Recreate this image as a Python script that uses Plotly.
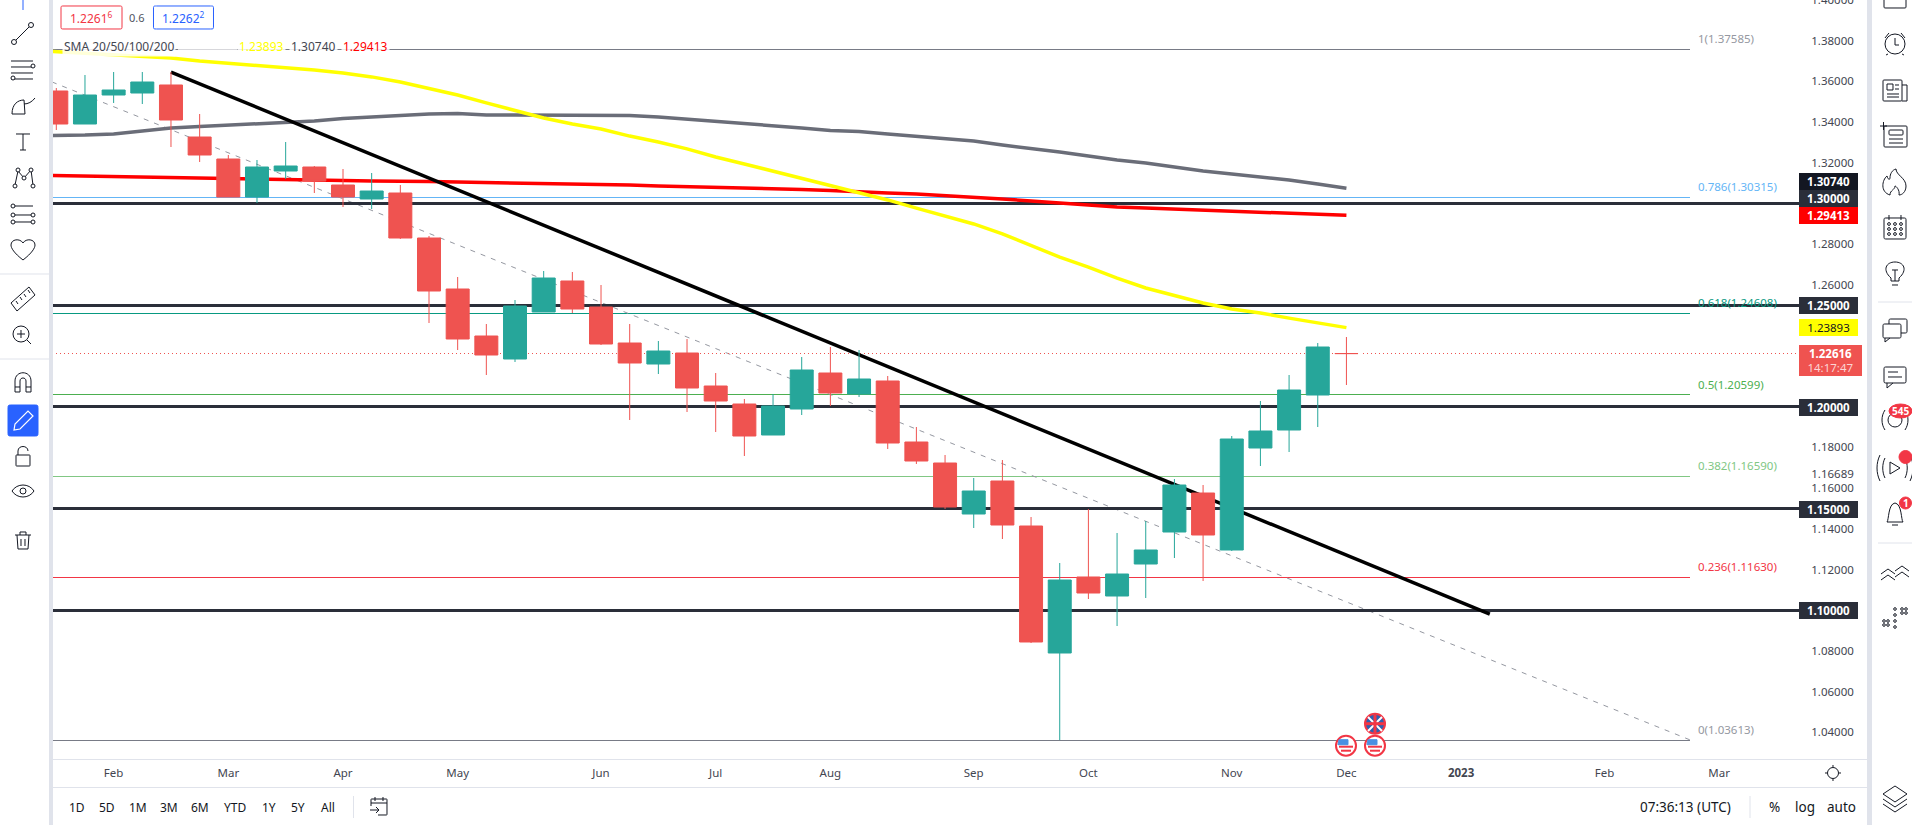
import re
import pandas as pd
import plotly.graph_objects as go

# ---------- data ----------
weeks = pd.date_range("2022-01-17", periods=46, freq="7D")
opens = [1.35527,1.33904,1.35330,1.35428,1.35822,1.33265,1.32183,1.30315,1.31593,1.31790,1.30905,1.30216,1.30511,1.28299,1.25791,1.23480,1.22349,1.24660,1.26185,1.24906,1.23136,1.22103,1.22644,1.21022,1.20137,1.18612,1.19891,1.21661,1.20628,1.21268,1.18268,1.17236,1.14728,1.16351,1.14138,1.07894,1.11631,1.10696,1.12270,1.13843,1.15761,1.12958,1.17973,1.18858,1.20579,1.22620]
highs = [1.35674,1.36313,1.36461,1.36461,1.36461,1.34396,1.32380,1.32134,1.33019,1.31839,1.31691,1.31495,1.30905,1.28397,1.26381,1.24070,1.25250,1.26676,1.26627,1.25988,1.24070,1.23234,1.23333,1.21661,1.20383,1.20628,1.22448,1.22939,1.22792,1.21513,1.19006,1.17629,1.16498,1.17383,1.14581,1.12319,1.14974,1.13794,1.14384,1.16449,1.16154,1.18563,1.20284,1.21563,1.23136,1.23431]
lows = [1.33609,1.33904,1.34937,1.34887,1.32773,1.32036,1.30315,1.30020,1.31200,1.30511,1.29823,1.29725,1.28250,1.24119,1.22792,1.21563,1.22202,1.24660,1.24611,1.23038,1.19350,1.21612,1.19743,1.18760,1.17580,1.18612,1.19596,1.20038,1.20481,1.17924,1.17187,1.14974,1.14040,1.13499,1.08385,1.03613,1.10549,1.09221,1.10598,1.12565,1.11434,1.12909,1.17088,1.17777,1.19006,1.21071]
closes = [1.33904,1.35330,1.35576,1.35969,1.34101,1.32380,1.30315,1.31790,1.31839,1.31101,1.30315,1.30610,1.28299,1.25693,1.23333,1.22546,1.24955,1.26332,1.24808,1.23087,1.22153,1.22743,1.20923,1.20284,1.18563,1.20038,1.21808,1.20678,1.21366,1.18219,1.17334,1.15072,1.15859,1.14187,1.08435,1.11483,1.10844,1.11778,1.12958,1.16154,1.13696,1.18416,1.18809,1.20825,1.22939,1.22616]
sma_weeks = pd.date_range("2022-01-10", periods=47, freq="7D")
sma_yellow = [1.3754,1.3747,1.3740,1.3732,1.3725,1.3715,1.3700,1.3690,1.3678,1.3668,1.3656,1.3641,1.3622,1.3597,1.3567,1.3533,1.3494,1.3459,1.3420,1.3390,1.3366,1.3331,1.3302,1.3268,1.3228,1.3194,1.3159,1.3125,1.3090,1.3056,1.3017,1.2977,1.2938,1.2899,1.2850,1.2791,1.2736,1.2687,1.2633,1.2584,1.2545,1.2510,1.2481,1.2461,1.2436,1.2412,1.23893]
sma_gray = [1.3333,1.3334,1.3336,1.3341,1.3356,1.3371,1.3378,1.3385,1.3390,1.3398,1.3405,1.3417,1.3425,1.3432,1.3440,1.3442,1.3435,1.3435,1.3435,1.3435,1.3432,1.3432,1.3425,1.3415,1.3405,1.3395,1.3385,1.3371,1.3358,1.3354,1.3341,1.3331,1.3319,1.3307,1.3287,1.3272,1.3253,1.3233,1.3213,1.3199,1.3179,1.3159,1.3145,1.3130,1.3115,1.3095,1.30740]
sma_red = [1.3139,1.3137,1.3135,1.3132,1.3130,1.3127,1.3125,1.3122,1.3120,1.3117,1.3115,1.3113,1.3110,1.3110,1.3108,1.3105,1.3103,1.3100,1.3098,1.3095,1.3093,1.3090,1.3086,1.3083,1.3081,1.3076,1.3071,1.3068,1.3063,1.3059,1.3051,1.3046,1.3039,1.3032,1.3022,1.3012,1.3002,1.2990,1.2982,1.2977,1.2972,1.2967,1.2963,1.2958,1.2953,1.2948,1.29413]

fib_ratios = ["1", "0.786", "0.618", "0.5", "0.382", "0.236", "0"]
fib_levels = [1.37585, 1.30315, 1.24608, 1.20599, 1.16590, 1.11630, 1.03613]
fib_colors = ["#787b86", "#64b5f6", "#089981", "#4caf50", "#81c784", "#f23645", "#787b86"]
fib_dates = ["2021-12-27", "2023-02-20"]
key_levels = [1.30, 1.25, 1.20, 1.15, 1.10]
trend_dates = ["2022-02-14", "2023-01-02"]
trend_prices = [1.3646, 1.0981]
last_price = 1.22616
last_gap = ["2022-11-25", "2022-12-02"]
y_ticks = [1.40, 1.38, 1.36, 1.34, 1.32, 1.28, 1.26, 1.18, 1.16689, 1.16, 1.14, 1.12, 1.08, 1.06, 1.04]
x_tick_dates = ["2022-01-31","2022-02-28","2022-03-28","2022-04-25","2022-05-30","2022-06-27","2022-07-25","2022-08-29","2022-09-26","2022-10-31","2022-11-28","2022-12-26","2023-01-30","2023-02-27"]
x_tick_text = ["Feb","Mar","Apr","May","Jun","Jul","Aug","Sep","Oct","Nov","Dec","<b>2023</b>","Feb","Mar"]
range_buttons = ["1D","5D","1M","3M","6M","YTD","1Y","5Y","All"]

# ---------- geometry ----------
L, R, B = 53, 1799, 759
PW = R - L
FONT = "Noto Sans"
INK = "#131722"
X = lambda px: (px - L) / PW
Y = lambda py: 1 - py / B
x_range = ["2022-01-16 04:40", "2023-03-18 12:00"]
y_range = [1.02682, 1.40001]
far = ["2021-12-01", "2023-04-30"]

fig = go.Figure()
for lv, c in zip(fib_levels, fib_colors):
    fig.add_trace(go.Scatter(x=fib_dates, y=[lv, lv], mode="lines", line=dict(color=c, width=1)))
fig.add_trace(go.Scatter(x=fib_dates, y=[fib_levels[0], fib_levels[-1]], mode="lines",
                         line=dict(color="#9598a1", width=1, dash="5px,6px")))
for lv in key_levels:
    fig.add_trace(go.Scatter(x=far, y=[lv, lv], mode="lines", line=dict(color="#2a2e39", width=3)))
fig.add_trace(go.Scatter(x=[far[0], last_gap[0], None, last_gap[1], far[1]],
                         y=[last_price, last_price, None, last_price, last_price], mode="lines",
                         line=dict(color="#ef5350", width=1, dash="1px,3px")))
fig.add_trace(go.Scatter(x=sma_weeks, y=sma_gray, mode="lines", line=dict(color="#6a6d78", width=3.5)))
fig.add_trace(go.Scatter(x=sma_weeks, y=sma_red, mode="lines", line=dict(color="#ff0000", width=3.5)))
fig.add_trace(go.Scatter(x=sma_weeks, y=sma_yellow, mode="lines", line=dict(color="#ffff00", width=3.5)))
fig.add_trace(go.Scatter(x=trend_dates, y=trend_prices, mode="lines", line=dict(color="#000000", width=3.5)))
fig.add_trace(go.Candlestick(x=weeks, open=opens, high=highs, low=lows, close=closes,
                             xaxis="x2", yaxis="y2", whiskerwidth=0,
                             increasing=dict(line=dict(color="#26a69a", width=1), fillcolor="#26a69a"),
                             decreasing=dict(line=dict(color="#ef5350", width=1), fillcolor="#ef5350")))

shapes, notes = [], []

def note(px, py, text, color=INK, size=12, anchor="center", **kw):
    notes.append(dict(xref="paper", yref="paper", x=X(px), y=Y(py), text=text, showarrow=False,
                      xanchor=anchor, yanchor="middle", font=dict(family=FONT, size=size, color=color), **kw))

def path(d, color=INK, width=1, fill=None):
    parts, isx = [], True
    for t in re.findall(r"[MLCZ]|-?\d+\.?\d*", d):
        if t in "MLCZ":
            parts.append(t); isx = True
        else:
            parts.append(f"{X(float(t)):.6f}" if isx else f"{Y(float(t)):.6f}")
            isx = not isx
    res, i = "", 0
    while i < len(parts):
        res += parts[i]; i += 1
        first = True
        while i + 1 < len(parts) and parts[i] not in "MLCZ":
            res += ("" if first else " ") + parts[i] + "," + parts[i + 1]
            first = False; i += 2
        res += " "
    sh = dict(type="path", xref="paper", yref="paper", path=res.strip(), line=dict(color=color, width=width))
    if fill:
        sh["fillcolor"] = fill
    shapes.append(sh)

def circ(cx, cy, r, color=INK, width=1, fill=None, ry=None):
    ry = ry or r
    sh = dict(type="circle", xref="paper", yref="paper", x0=X(cx - r), x1=X(cx + r), y0=Y(cy + ry), y1=Y(cy - ry),
              line=dict(color=color, width=width))
    if fill:
        sh["fillcolor"] = fill
    shapes.append(sh)

def rect(x0, y0, x1, y1, fill=None, color=None, width=0):
    sh = dict(type="rect", xref="paper", yref="paper", x0=X(x0), x1=X(x1), y0=Y(y1), y1=Y(y0),
              line=dict(color=color or "rgba(0,0,0,0)", width=width))
    if fill:
        sh["fillcolor"] = fill
    shapes.append(sh)

def rrect(x0, y0, x1, y1, r=3, color=INK, width=1, fill=None):
    path(f"M {x0+r} {y0} L {x1-r} {y0} C {x1} {y0} {x1} {y0} {x1} {y0+r} L {x1} {y1-r} C {x1} {y1} {x1} {y1} {x1-r} {y1} "
         f"L {x0+r} {y1} C {x0} {y1} {x0} {y1} {x0} {y1-r} L {x0} {y0+r} C {x0} {y0} {x0} {y0} {x0+r} {y0} Z", color, width, fill)

# ---------- frame ----------
SEP = "#e0e3eb"
rect(49, 0, 53, 825, fill=SEP)
rect(1867, 0, 1872, 825, fill=SEP)
path("M 53 759.5 L 1867 759.5", SEP)
path("M 53 787.5 L 1867 787.5", SEP)
path("M 0 274 L 49 274", SEP); path("M 0 359 L 49 359", SEP)
path("M 353.5 796 L 353.5 818", SEP); path("M 1750 796 L 1750 818", SEP)
path("M 1878 302 L 1912 302", SEP); path("M 1878 543 L 1912 543", SEP)

# ---------- left toolbar ----------
path("M 23 0 L 23 10", "#2962ff")
path("M 16 40 L 29 27"); circ(14, 42, 2.5); circ(31, 25, 2.5)
for yy in (61, 67, 73, 79):
    path(f"M 11 {yy} L 33 {yy}")
circ(33, 66, 2, fill="white"); circ(13, 78, 2, fill="white")
path("M 12 114 C 12 104 18 100 24 100 L 25 114 Z"); path("M 24 104 C 28 104 32 102 35 98")
path("M 16 134 L 30 134"); path("M 23 134 L 23 150"); path("M 20 150 L 26 150")
path("M 15 185 L 18 171 L 24 178 L 31 170 L 33 185")
for c in ((15, 186), (18, 170), (24, 178), (31, 170), (33, 186)):
    circ(c[0], c[1], 2, fill="white")
path("M 13 206 L 33 206"); path("M 13 215 L 33 215"); path("M 13 222 L 33 222")
for c in ((13, 206), (13, 215), (13, 222), (33, 215), (33, 222)):
    circ(c[0], c[1], 2, fill="white")
path("M 23 260 C 14 253 11 248 11 245 C 11 239 20 238 23 243 C 26 238 35 239 35 245 C 35 248 32 253 23 260 Z")
path("M 11 303 L 29 287 L 35 295 L 17 311 Z")
for a, b in ((16, 303), (20, 299), (24, 296), (28, 292)):
    path(f"M {a} {b-2} L {a+2} {b+1}")
circ(21, 334, 8); path("M 27 340 L 31 344"); path("M 17 334 L 25 334"); path("M 21 330 L 21 338")
path("M 15 392 L 15 381 C 15 370 31 370 31 381 L 31 392 L 26 392 L 26 381 C 26 377 20 377 20 381 L 20 392 Z")
path("M 15 387 L 20 387"); path("M 26 387 L 31 387")
rrect(8, 405, 38, 436, 4, "#2962ff", 1, "#2962ff")
path("M 14 430 L 15 424 L 28 411 L 33 416 L 20 429 Z", "white", 1.2)
rrect(16, 455, 30, 466, 1); path("M 18 455 L 18 451 C 18 445 28 445 28 451")
path("M 12 491 C 17 483 29 483 34 491 C 29 499 17 499 12 491 Z"); circ(23, 491, 3)
path("M 15 535 L 31 535"); path("M 20 535 L 20 532 L 26 532 L 26 535"); path("M 17 535 L 18 549 L 28 549 L 29 535")
path("M 21 539 L 21 546"); path("M 25 539 L 25 546")

# ---------- right toolbar ----------
C = 1895
rrect(1884, -2, 1906, 8, 2)
circ(C, 44, 10); path(f"M {C} 38 L {C} 45 L {C+4} 45"); path("M 1885 38 L 1889 33"); path("M 1905 38 L 1901 33")
path("M 1888 54 L 1886 55"); path("M 1902 54 L 1904 55")
rrect(1883, 80, 1902, 101, 2); path("M 1902 85 L 1907 85 L 1907 101 L 1902 101")
rrect(1887, 84, 1893, 90, 0); path("M 1895 85 L 1899 85"); path("M 1895 89 L 1899 89"); path("M 1887 94 L 1899 94"); path("M 1887 97 L 1899 97")
rrect(1884, 126, 1907, 147, 2); rrect(1889, 130, 1903, 135, 2); path("M 1889 139 L 1903 139"); path("M 1889 143 L 1903 143")
path("M 1880 126 L 1887 126"); path("M 1883.5 122 L 1883.5 130")
path("M 1890 195 C 1880 192 1882 180 1887 176 C 1888 180 1890 180 1890 178 C 1890 174 1892 170 1896 169 C 1896 175 1906 178 1906 186 C 1906 192 1902 195 1899 195 C 1900 190 1896 186 1895 186 C 1895 190 1890 190 1890 195 Z")
rrect(1884, 218, 1906, 239, 3); path("M 1889 215 L 1889 220"); path("M 1901 215 L 1901 220")
for yy in (224, 229, 234):
    for xx in (1889, 1895, 1901):
        circ(xx, yy, 1.4)
path("M 1891 278 C 1882 270 1886 262 1895 262 C 1904 262 1908 270 1899 278 L 1899 281 L 1891 281 Z")
path("M 1892 285 L 1898 285"); path("M 1895 270 L 1895 281"); path("M 1892 270 L 1898 270")
rrect(1889, 319, 1907, 333, 3); rrect(1883, 324, 1901, 338, 3, fill="white"); path("M 1885 338 L 1885 342 L 1890 338")
rrect(1884, 367, 1906, 383, 3); path("M 1887 383 L 1887 388 L 1893 383"); path("M 1888 372 L 1898 372"); path("M 1888 377 L 1902 377")
circ(C, 420, 7); path("M 1885 410 C 1881 416 1881 424 1885 430"); path("M 1905 410 C 1909 416 1909 424 1905 430")
circ(1900.5, 411, 11.5, fill="#f23645", color="#f23645", ry=7)
note(1900.5, 411, "<b>545</b>", "white", 10)
path("M 1890 462 L 1890 474 L 1900 468 Z"); path("M 1885 458 C 1882 464 1882 472 1885 478"); path("M 1880 455 C 1876 463 1876 473 1880 481")
path("M 1905 458 C 1908 464 1908 472 1905 478"); path("M 1910 455 C 1914 463 1914 473 1910 481")
circ(1905.5, 457, 6.5, fill="#f23645", color="#f23645")
path("M 1887 522 C 1889 520 1888 504 1895 503 C 1902 504 1901 520 1903 522 L 1887 522 Z"); path("M 1892 525 L 1898 525")
circ(1905.5, 503, 6, fill="#f23645", color="#f23645")
note(1905.5, 503, "<b>1</b>", "white", 10)
path("M 1881 574 L 1888 569 L 1895 574"); path("M 1895 571 L 1902 566 L 1909 571"); path("M 1881 580 L 1888 575 L 1895 580"); path("M 1895 577 L 1902 572 L 1909 577")
for xx, yy in ((1884, 625), (1888, 625), (1884, 621), (1888, 621), (1902, 613), (1906, 613), (1902, 609), (1906, 609), (1895, 609), (1895, 615), (1895, 621), (1895, 627)):
    circ(xx, yy, 1.3)
path("M 1895 786 L 1907 794 L 1895 802 L 1883 794 Z"); path("M 1883 799 L 1895 807 L 1907 799"); path("M 1883 804 L 1895 812 L 1907 804")

# ---------- top-left readout and SMA legend ----------
rrect(61, 6, 122, 29, 3, "#f23645", 1, "white")
note(91.5, 18, "1.2261<sup>6</sup>", "#f23645", 12)
note(137, 18, "0.6", "#50535e", 11)
rrect(153.5, 6, 213.5, 29, 3, "#2962ff", 1, "white")
note(183.5, 18, "1.2262<sup>2</sup>", "#2962ff", 12)
BG = "rgba(255,255,255,0.85)"
note(62, 46.5, "SMA 20/50/100/200", "#434651", 12, "left", bgcolor=BG)
rect(178, 44, 237, 53, fill="rgba(255,255,255,0.7)")
note(237, 46.5, "1.23893", "#ffff00", 12, "left", bgcolor=BG)
note(289, 46.5, "1.30740", "#434651", 12, "left", bgcolor=BG)
note(341, 46.5, "1.29413", "#ff0000", 12, "left", bgcolor=BG)

# ---------- fibonacci labels ----------
for r, lv, c in zip(fib_ratios, fib_levels, fib_colors):
    notes.append(dict(xref="x", yref="y", x=fib_dates[1], y=lv, xshift=6, yshift=10.5, xanchor="left", yanchor="middle",
                      text=f"{r}({lv:.5f})", showarrow=False, font=dict(family=FONT, size=11.5, color="#9598a1" if c == "#787b86" else c)))

# ---------- price boxes ----------
def box(y0, y1, fill, text, color="white", x1=1858):
    notes.append(dict(xref="paper", yref="paper", x=X(R), y=Y(y0), xanchor="left", yanchor="top", width=x1 - R, height=y1 - y0,
                      bgcolor=fill, borderpad=0, borderwidth=0, align="center", valign="middle", showarrow=False, text=text,
                      font=dict(family=FONT, size=11.5, color=color)))

box(173, 190, "#131722", "<b>1.30740</b>")
box(190, 207, "#2a2e39", "<b>1.30000</b>")
box(207, 224, "#ff0000", "<b>1.29413</b>")
box(297, 314, "#2a2e39", "<b>1.25000</b>")
box(319, 336, "#ffff00", "1.23893", "#131722")
box(345, 376, "#ef5350", "<b>1.22616</b><br><span style='color:#fbd5d4'>14:17:47</span>", x1=1862)
box(399, 416, "#2a2e39", "<b>1.20000</b>")
box(501, 518, "#2a2e39", "<b>1.15000</b>")
box(602, 619, "#2a2e39", "<b>1.10000</b>")

# ---------- bottom bar ----------
for px, t in zip((76.7, 107, 138, 169, 200, 235, 269, 298, 328), range_buttons):
    note(px, 807, t, "#131722", 12)
rrect(371, 799, 387, 815, 1); path("M 371 803 L 387 803"); path("M 375 797 L 375 801"); path("M 383 797 L 383 801")
rect(368, 806, 378, 818, fill="white"); path("M 370 810 L 379 810"); path("M 376 807 L 379 810 L 376 813")
note(1733, 807, "07:36:13 (UTC)", "#131722", 13.5, "right")
note(1774, 807, "%", "#131722", 13.5); note(1805, 807, "log", "#131722", 13.5); note(1842, 807, "auto", "#131722", 13.5)
circ(1833, 773, 5.5)
for a, b, c, d in ((1833, 765, 1833, 767), (1833, 779, 1833, 781), (1825, 773, 1827, 773), (1839, 773, 1841, 773)):
    path(f"M {a} {b} L {c} {d}")

# ---------- event flags ----------
def flag_us(cx, cy):
    circ(cx, cy, 10, "#f23645", 2, "white")
    path(f"M {cx-7} {cy+1} L {cx+7} {cy+1}", "#f23645", 2)
    path(f"M {cx-5} {cy+5} L {cx+5} {cy+5}", "#f23645", 2)
    path(f"M {cx-7} {cy-6} L {cx+2} {cy-6} L {cx+2} {cy-1} L {cx-8} {cy-1} Z", "#4a90e2", 1, "#4a90e2")

flag_us(1346, 745.7)
flag_us(1375, 745.7)
circ(1375, 723.7, 10, "#f23645", 2, "#2f5fb0")
path("M 1368 717 L 1382 731", "white", 2); path("M 1382 717 L 1368 731", "white", 2)
path("M 1375 715 L 1375 733", "#f23645", 3); path("M 1366 723.7 L 1384 723.7", "#f23645", 3)

axis_y = dict(range=y_range, showgrid=False, zeroline=False, showline=False, fixedrange=True)
axis_x = dict(range=x_range, type="date", showgrid=False, zeroline=False, fixedrange=True, rangeslider=dict(visible=False))

fig.update_layout(
    width=1912, height=825, showlegend=False, hovermode=False, paper_bgcolor="white", plot_bgcolor="white",
    margin=dict(l=L, r=1912 - R, t=0, b=825 - B, pad=0, autoexpand=False), boxgap=0.198, boxgroupgap=0,
    font=dict(family=FONT, size=12, color="#434651"), shapes=shapes, annotations=notes,
    xaxis=dict(axis_x, tickmode="array", tickvals=x_tick_dates, ticktext=x_tick_text, ticks="outside", ticklen=3,
               tickcolor="rgba(0,0,0,0)", showline=False, tickfont=dict(family=FONT, size=11.5, color="#434651")),
    yaxis=dict(axis_y, side="right", tickmode="array", tickvals=y_ticks, ticktext=[f"{v:.5f}" for v in y_ticks],
               ticks="outside", ticklen=9, ticklabeloverflow="allow", tickcolor="rgba(0,0,0,0)",
               tickfont=dict(family=FONT, size=11.5, color="#434651")),
    xaxis2=dict(axis_x, overlaying="x", visible=False),
    yaxis2=dict(axis_y, overlaying="y", visible=False),
)
crisp = ("document.body.style.margin='0';document.documentElement.style.overflow='hidden';"
         "document.querySelectorAll('.scatterlayer .trace').forEach(function(t,i){"
         "if(i<7||(i>=8&&i<=13)){t.querySelectorAll('path').forEach(function(p){p.style.shapeRendering='crispEdges';});}});")
fig.write_html("out.html", config={"displayModeBar": False}, post_script=crisp)
